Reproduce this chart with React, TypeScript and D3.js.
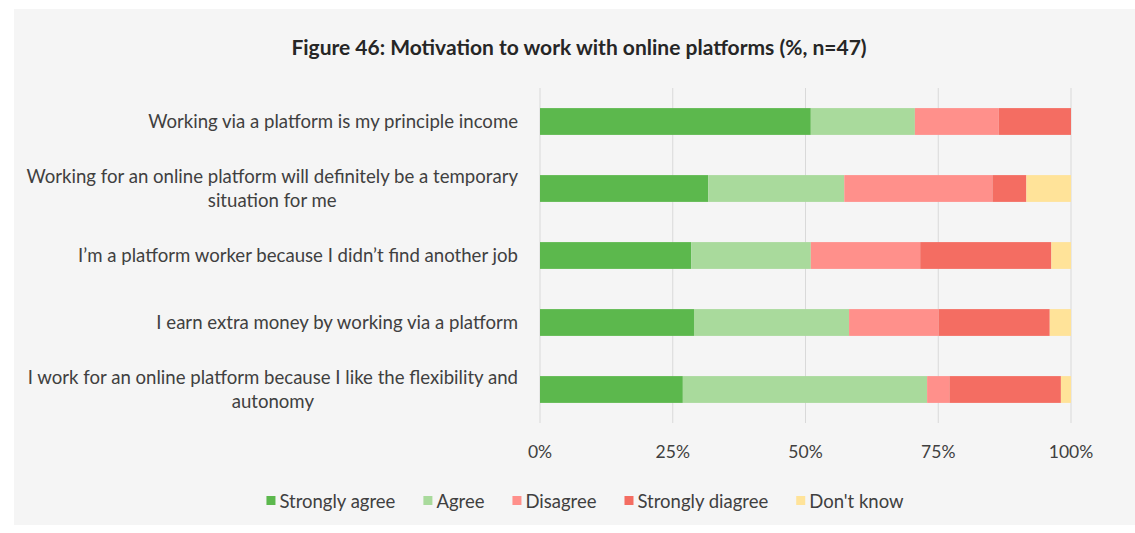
import React, { useEffect, useRef } from "react";
import * as d3 from "d3";

const categories: string[][] = [
  ["Working via a platform is my principle income"],
  ["Working for an online platform will definitely be a temporary", "situation for me"],
  ["I\u2019m a platform worker because I didn\u2019t find another job"],
  ["I earn extra money by working via a platform"],
  ["I work for an online platform because I like the flexibility and", "autonomy"],
];
const seriesNames = ["Strongly agree", "Agree", "Disagree", "Strongly diagree", "Don't know"];
const stronglyAgree = [51.0, 31.7, 28.5, 29.0, 26.9];
const agree = [19.6, 25.6, 22.5, 29.2, 46.0];
const disagree = [15.8, 27.9, 20.6, 16.9, 4.2];
const stronglyDisagree = [13.6, 6.4, 24.7, 20.9, 21.0];
const dontKnow = [0, 8.4, 3.7, 4.0, 1.9];
const tickValues = [0, 25, 50, 75, 100];
const colors = ["#5cb84d", "#a9da9c", "#ff908b", "#f46d62", "#ffe399"];

const W = 1135;
const H = 533;
const FONT = "Lato, 'Open Sans', sans-serif";
const LABEL_FS = 18.6;
const TICK_FS = 17.5;
const LEGEND_FS = 18.5;
const TITLE_FS = 21;

export default function App() {
  const ref = useRef<SVGSVGElement>(null);
  useEffect(() => {
    const svg = d3.select(ref.current);
    svg.selectAll("*").remove();
    svg.append("rect").attr("x", 0).attr("y", 0).attr("width", W).attr("height", H).attr("fill", "#ffffff");
    svg.append("rect").attr("x", 14).attr("y", 9).attr("width", W - 14).attr("height", 516).attr("fill", "#f5f5f5");

    const x = d3.scaleLinear().domain([0, 100]).range([540, 1071]);
    const y = d3.scaleBand<number>().domain(d3.range(categories.length)).range([88, 423]).paddingInner(0.6).paddingOuter(0.3);

    // title
    svg.append("text").attr("x", 579).attr("y", 55).attr("text-anchor", "middle")
      .attr("font-family", FONT).attr("font-weight", 700).attr("font-size", TITLE_FS).attr("fill", "#262626")
      .text("Figure 46: Motivation to work with online platforms (%, n=47)");

    // grid
    svg.append("g").selectAll("line").data(tickValues).join("line")
      .attr("x1", (d) => x(d)).attr("x2", (d) => x(d)).attr("y1", 88).attr("y2", 423)
      .attr("stroke", "#d9d9d9").attr("stroke-width", 1);

    // ticks
    svg.append("g").selectAll("text").data(tickValues).join("text")
      .attr("x", (d) => x(d)).attr("y", 458).attr("text-anchor", "middle")
      .attr("font-family", FONT).attr("font-size", TICK_FS).attr("fill", "#404040")
      .text((d) => d + "%");

    // stacked bars
    const stackData = categories.map((_, i) => {
      const vals = [stronglyAgree[i], agree[i], disagree[i], stronglyDisagree[i], dontKnow[i]];
      const o: Record<string, number> = { i };
      seriesNames.forEach((s, k) => (o[s] = vals[k]));
      return o;
    });
    const stack = d3.stack<Record<string, number>>().keys(seriesNames)(stackData);
    const g = svg.append("g");
    stack.forEach((layer, k) => {
      g.append("g").attr("fill", colors[k]).selectAll("rect").data(layer).join("rect")
        .attr("x", (d) => x(d[0]))
        .attr("width", (d) => Math.max(0, x(d[1]) - x(d[0])))
        .attr("y", (d) => y(d.data.i)!)
        .attr("height", y.bandwidth());
    });

    // category labels
    const labelRight = 518;
    categories.forEach((lines, i) => {
      const cy = y(i)! + y.bandwidth() / 2;
      const t = svg.append("text").attr("font-family", FONT).attr("font-size", LABEL_FS).attr("fill", "#404040");
      if (lines.length === 1) {
        t.attr("x", labelRight).attr("y", cy + 6).attr("text-anchor", "end").text(lines[0]);
      } else {
        const tmp = svg.append("text").attr("font-family", FONT).attr("font-size", LABEL_FS).text(lines[0]);
        const w = (tmp.node() as SVGTextElement).getComputedTextLength();
        tmp.remove();
        const cx = labelRight - w / 2;
        t.attr("text-anchor", "middle");
        lines.forEach((ln, j) => {
          t.append("tspan").attr("x", cx).attr("y", cy + 6 - 12 + j * 24).text(ln);
        });
      }
    });

    // legend
    const leg = svg.append("g");
    const sq = 9, gapT = 4, gapItem = 28;
    const widths = seriesNames.map((s) => {
      const tmp = svg.append("text").attr("font-family", FONT).attr("font-size", LEGEND_FS).text(s);
      const w = (tmp.node() as SVGTextElement).getComputedTextLength();
      tmp.remove();
      return w;
    });
    const total = d3.sum(widths) + seriesNames.length * (sq + gapT) + (seriesNames.length - 1) * gapItem;
    let lx = 585 - total / 2;
    const ly = 508;
    seriesNames.forEach((s, k) => {
      leg.append("rect").attr("x", lx).attr("y", ly - 12).attr("width", sq).attr("height", sq).attr("fill", colors[k]);
      leg.append("text").attr("x", lx + sq + gapT).attr("y", ly).attr("font-family", FONT).attr("font-size", LEGEND_FS)
        .attr("fill", "#404040").text(s);
      lx += sq + gapT + widths[k] + gapItem;
    });
  }, []);
  return (
    <svg ref={ref} width={W} height={H} style={{ position: "absolute", left: 0, top: 0, display: "block" }} />
  );
}
